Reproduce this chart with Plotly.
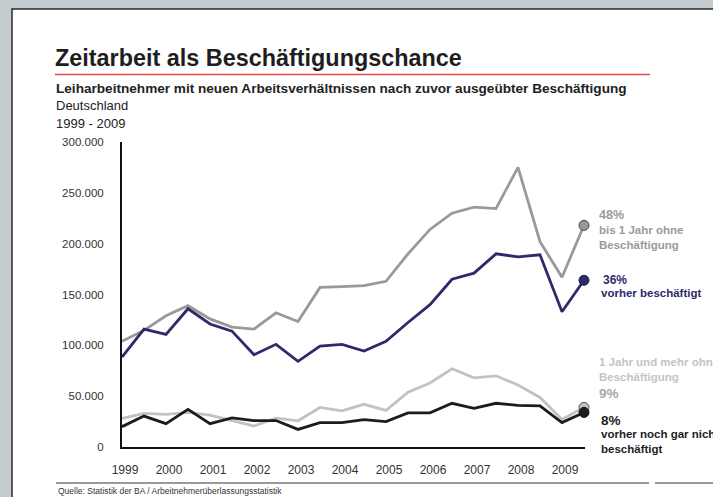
import plotly.graph_objects as go

# ---------------- data ----------------
periods = [1999 + 0.5 * i for i in range(22)]  # half-year steps 1999 .. 2009.5

bis_1_jahr_ohne = [104000, 114700, 129000, 139000, 126000, 118000, 116000, 132000,
                   123500, 157000, 157800, 158800, 163000, 190000, 214000, 230000,
                   236000, 234500, 275000, 202000, 167000, 218000]
vorher_beschaeftigt = [88500, 116000, 110700, 136000, 121000, 114000, 90800, 101000,
                       84300, 99300, 101000, 94400, 104000, 122500, 140000, 165000,
                       171000, 190000, 187000, 189000, 133000, 164000]
ein_jahr_und_mehr = [28000, 33000, 32000, 34000, 31400, 25800, 20600, 28400,
                     25800, 38900, 35600, 42000, 36000, 54000, 63000, 77000,
                     68000, 70000, 61000, 48700, 27000, 39000]
noch_gar_nicht = [20000, 30400, 23000, 37000, 23000, 28700, 26000, 26000,
                  17300, 24000, 24000, 27000, 25000, 33600, 33600, 43000,
                  38000, 43000, 41000, 40500, 24000, 34000]

year_ticks = list(range(1999, 2010))
year_labels = [str(y) for y in year_ticks]
y_ticks = [0, 50000, 100000, 150000, 200000, 250000, 300000]
y_labels = ["0", "50.000", "100.000", "150.000", "200.000", "250.000", "300.000"]

# ---------------- layout geometry ----------------
W, H = 713, 497
L, R, T, B = 122, 128, 142, 50
PW, PH = W - L - R, H - T - B


def px(x):
    return (x - L) / PW


def py(y):
    return (H - B - y) / PH


FONT = "Liberation Sans, Arial, sans-serif"

C_GREY = "#999999"
C_BLUE = "#2e2a6c"
C_LIGHT = "#c2c2c2"
C_BLACK = "#1c1c1c"

fig = go.Figure()

series = [
    (ein_jahr_und_mehr, C_LIGHT, "#555555"),
    (noch_gar_nicht, C_BLACK, "#111111"),
    (bis_1_jahr_ohne, C_GREY, "#444444"),
    (vorher_beschaeftigt, C_BLUE, "#1a1840"),
]
for vals, col, edge in series:
    fig.add_trace(go.Scatter(x=periods, y=vals, mode="lines",
                             line=dict(color=col, width=2.8),
                             hoverinfo="skip", showlegend=False, cliponaxis=False))
for vals, col, edge in series:
    fig.add_trace(go.Scatter(x=[periods[-1]], y=[vals[-1]], mode="markers",
                             marker=dict(color=col, size=10, line=dict(color=edge, width=1)),
                             hoverinfo="skip", showlegend=False, cliponaxis=False))

fig.update_xaxes(range=[1999, 1999 + PW / 44.0], tickvals=year_ticks, ticktext=year_labels,
                 showgrid=False, zeroline=False, showline=True, linecolor="#111111",
                 linewidth=2, ticks="", ticklabelstandoff=11, ticklabelshift=3,
                 tickfont=dict(family=FONT, size=12, color="#333333"))
fig.update_yaxes(range=[0, 300000], tickvals=y_ticks, ticktext=y_labels,
                 showgrid=False, zeroline=False, showline=True, linecolor="#111111",
                 linewidth=2, ticks="", ticklabelstandoff=14,
                 tickfont=dict(family=FONT, size=11.5, color="#333333"))

shapes = [
    # white panel with dark border on grey page
    dict(type="rect", xref="paper", yref="paper", x0=px(12), x1=px(730), y0=py(9), y1=py(520),
         fillcolor="white", line=dict(color="#2a2a2a", width=1.5), layer="below"),
    # red rule under title
    dict(type="line", xref="paper", yref="paper", x0=px(55), x1=px(650), y0=py(74.5), y1=py(74.5),
         line=dict(color="#e8474a", width=1.6)),
    # bottom rules
    dict(type="line", xref="paper", yref="paper", x0=px(56), x1=px(649), y0=py(483), y1=py(483),
         line=dict(color="#777777", width=1.3)),
    dict(type="line", xref="paper", yref="paper", x0=px(655), x1=px(713), y0=py(483), y1=py(483),
         line=dict(color="#777777", width=1.3)),
]

ann = []


def text(x, y, s, size, color="#222222", bold=False):
    ann.append(dict(xref="paper", yref="paper", x=px(x), y=py(y), text=("<b>%s</b>" % s) if bold else s,
                    showarrow=False, xanchor="left", yanchor="middle",
                    font=dict(family=FONT, size=size, color=color)))


text(53, 58, "Zeitarbeit als Beschäftigungschance", 23.4, "#1e1e1e", True)
text(54, 89, "Leiharbeitnehmer mit neuen Arbeitsverhältnissen nach zuvor ausgeübter Beschäftigung", 13.6, "#222222", True)
text(54, 106, "Deutschland", 13, "#222222")
text(54, 123, "1999 - 2009", 13, "#222222")
text(56, 491, "Quelle: Statistik der BA / Arbeitnehmerüberlassungsstatistik", 8.5, "#333333")

text(597, 215, "48%", 12.5, "#9a9a9a", True)
text(597, 230, "bis 1 Jahr ohne", 11.5, "#9a9a9a", True)
text(597, 245, "Beschäftigung", 11.5, "#9a9a9a", True)
text(601, 280, "36%", 12, C_BLUE, True)
text(599, 293, "vorher beschäftigt", 11.5, C_BLUE, True)
text(597, 362, "1 Jahr und mehr ohne", 11.5, "#c4c4c4", True)
text(597, 377, "Beschäftigung", 11.5, "#c4c4c4", True)
text(597, 393, "9%", 13.5, "#a8a8a8", True)
text(599, 420, "8%", 13.5, "#1e1e1e", True)
text(599, 434, "vorher noch gar nicht", 11.5, "#1e1e1e", True)
text(599, 449, "beschäftigt", 11.5, "#1e1e1e", True)

fig.update_layout(width=W, height=H, margin=dict(l=L, r=R, t=T, b=B, pad=0),
                  paper_bgcolor="#c6cdd0", plot_bgcolor="rgba(0,0,0,0)",
                  shapes=shapes, annotations=ann, showlegend=False)

fig.write_html("out.html", config={"displayModeBar": False},
               post_script="document.body.style.margin='0';document.body.style.padding='0';"
                           "document.body.style.overflow='hidden';")
